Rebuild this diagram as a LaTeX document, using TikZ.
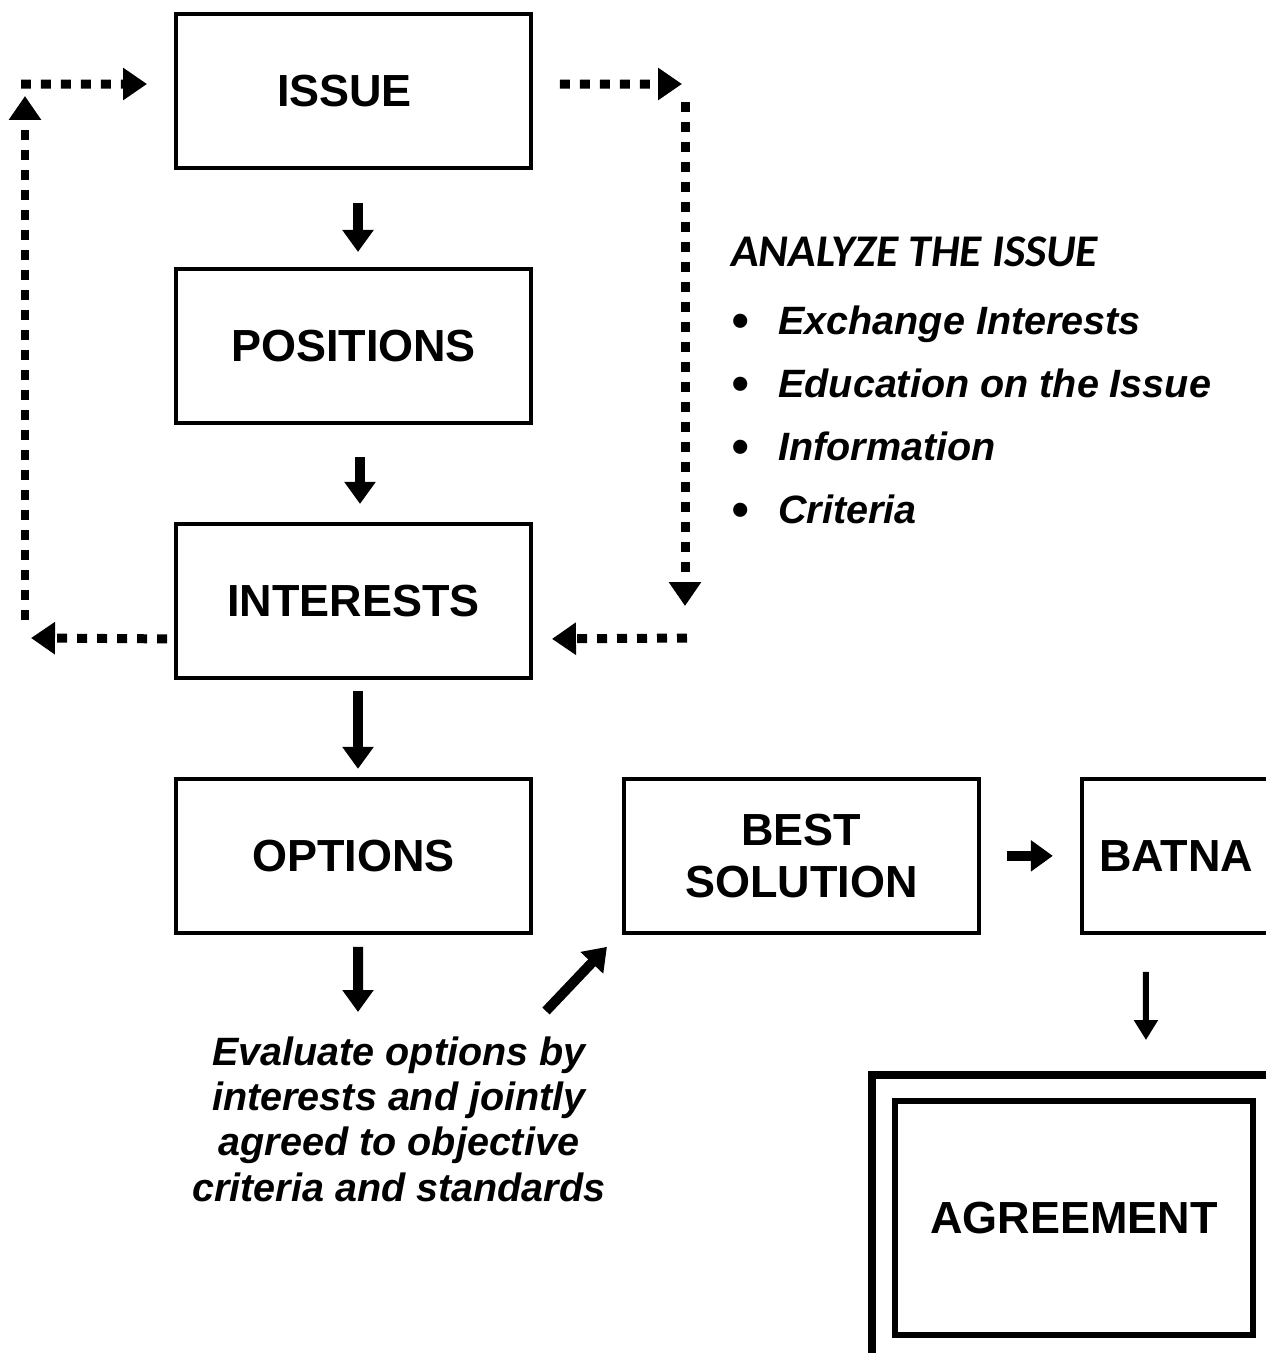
\documentclass[tikz,border=0pt]{standalone}
\usepackage{fontspec}
\setmainfont{Liberation Sans}
\newfontfamily\headfont{Carlito}
\usetikzlibrary{arrows.meta,positioning}

\newcommand{\notebullet}{\makebox[0.94cm][l]{\raisebox{-0.07cm}{\fontsize{28pt}{28pt}\selectfont •}}}

\begin{document}
\begin{tikzpicture}[x=0.02cm,y=-0.02cm,node distance=1.94cm,
    stepbox/.style={draw,line width=0.08cm,minimum width=7.1cm,minimum height=3.08cm,align=center,inner sep=0pt,font=\fontsize{25.6pt}{29.6pt}\selectfont\bfseries},
    flow/.style={-{Triangle[width=0.6cm,length=0.44cm]},line width=0.2cm},
    dotflow/.style={-{Triangle[width=0.62cm,length=0.48cm]},line width=0.18cm,dash pattern=on 0.2cm off 0.2cm},
    notetext/.style={inner sep=0pt,font=\fontsize{22.5pt}{25.8pt}\selectfont\bfseries\itshape}]
      \useasboundingbox (0,0) rectangle (1266,1353);
      \clip (0,0) rectangle (1266,1353);
      \node[stepbox] (issue) at (353.5,91) {ISSUE\hspace{0.36cm}};
      \node[stepbox,below=of issue] (positions) {POSITIONS};
      \node[stepbox,below=of positions] (interests) {INTERESTS};
      \node[stepbox,below=of interests] (options) {OPTIONS};
      \node[stepbox,right=1.78cm of options] (best) {BEST\\SOLUTION};
      \node[stepbox,right=1.98cm of best,minimum width=3.78cm] (batna) {BATNA};
      \node[stepbox,line width=0.12cm,minimum width=7.16cm,minimum height=4.68cm] (agree) at (1074,1218) {AGREEMENT};
      \node[draw,line width=0.16cm,minimum width=8.08cm,minimum height=5.72cm] (agreeframe) at (agree) {};
      % analysis notes
      \node[anchor=base west,inner sep=0pt,font=\headfont\fontsize{25.8pt}{28pt}\selectfont\bfseries\itshape] (analyze) at (731,266) {ANALYZE THE ISSUE};
      \node[notetext,anchor=base west] (exchange) at (731,334) {\notebullet Exchange Interests};
      \node[notetext,anchor=base west] (education) at (731,397) {\notebullet Education on the Issue};
      \node[notetext,anchor=base west] (information) at (731,460) {\notebullet Information};
      \node[notetext,anchor=base west] (criteria) at (731,523) {\notebullet Criteria};
      \node[notetext,align=center,anchor=north] (eval) at (399,1036) {Evaluate options by\\interests and jointly\\agreed to objective\\criteria and standards};
      % main flow
      \draw[flow] ([xshift=0.09cm,yshift=-0.66cm]issue.south) -- ([xshift=0.09cm,yshift=0.3cm]positions.north);
      \draw[flow] ([xshift=0.13cm,yshift=-0.64cm]positions.south) -- ([xshift=0.13cm,yshift=0.36cm]interests.north);
      \draw[flow] ([xshift=0.09cm,yshift=-0.22cm]interests.south) -- ([xshift=0.09cm,yshift=0.16cm]options.north);
      \draw[flow] ([xshift=0.09cm,yshift=-0.24cm]options.south) -- ([xshift=-0.82cm,yshift=0.48cm]eval.north);
      \draw[flow] ([xshift=2.94cm,yshift=0.5cm]eval.north) -- ([xshift=-0.3cm,yshift=-0.24cm]best.south west);
      \draw[flow] ([xshift=0.52cm]best.east) -- ([xshift=-0.54cm]batna.west);
      \draw[flow,line width=0.12cm,-{Triangle[width=0.46cm,length=0.4cm]}] ([xshift=-0.61cm,yshift=-0.74cm]batna.south) -- ([xshift=1.44cm,yshift=0.62cm]agreeframe.north);
      % feedback loops
      \coordinate (lowleft) at (25,638);
      \coordinate (upleft) at (25,84);
      \coordinate (upright) at (685,84);
      \coordinate (lowright) at (685,638);
      \draw[dotflow] ([xshift=-0.14cm,yshift=-0.76cm]interests.west) -- ([xshift=0.12cm]lowleft);
      \draw[dotflow] ([yshift=0.36cm]lowleft) -- ([yshift=-0.24cm]upleft);
      \draw[dotflow] ([xshift=-0.08cm]upleft) -- ([xshift=-0.54cm,yshift=0.14cm]issue.west);
      \draw[dotflow] ([xshift=0.54cm,yshift=0.14cm]issue.east) -- ([xshift=-0.06cm]upright);
      \draw[dotflow] ([yshift=-0.36cm]upright) -- ([yshift=0.64cm]lowright);
      \draw[dotflow] ([xshift=0.04cm]lowright) -- ([xshift=0.38cm,yshift=-0.76cm]interests.east);
    \end{tikzpicture}
\end{document}
